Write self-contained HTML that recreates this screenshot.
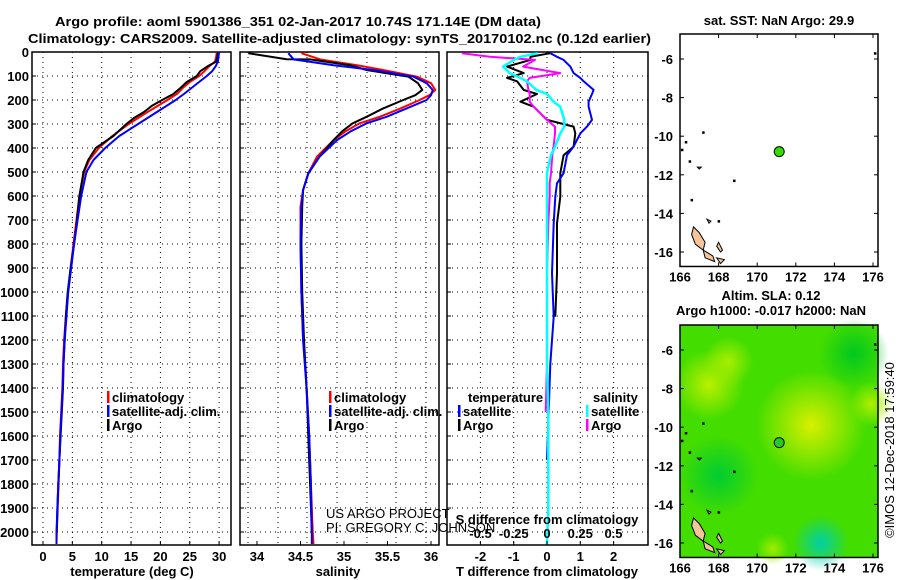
<!DOCTYPE html>
<html><head><meta charset="utf-8">
<style>
html,body{margin:0;padding:0;background:#fff;}
svg{display:block;font-family:"Liberation Sans",sans-serif;}
.b{font-weight:bold;font-size:13px;}
</style></head>
<body>
<svg id="c" width="900" height="580" viewBox="0 0 900 580" xmlns="http://www.w3.org/2000/svg">
<rect width="900" height="580" fill="#fff"/>
<text x="55" y="26" class="b" font-size="15" textLength="486" lengthAdjust="spacingAndGlyphs">Argo profile: aoml 5901386_351 02-Jan-2017 10.74S 171.14E (DM data)</text>
<text x="28" y="43" class="b" font-size="15" textLength="623" lengthAdjust="spacingAndGlyphs">Climatology: CARS2009. Satellite-adjusted climatology: synTS_20170102.nc (0.12d earlier)</text>
<g id="g"></g>
</svg>
<script>
// ---- data ----
const depthT = [0,20,40,60,80,100,125,150,175,200,225,250,275,300,350,400,450,500,600,700,800,900,1000,1100,1200,1300,1400,1500,1600,1700,1800,1900,2000,2050];
const tempArgo = [29.8,29.7,29.5,28.0,26.8,26.2,24.5,23.4,22.2,20.3,18.5,17.2,15.5,14.2,12.0,9.0,7.7,6.9,6.2,5.8,5.3,4.7,4.2,3.9,3.7,3.5,3.4,3.2,3.0,2.8,2.6,2.45,2.35,null];
const tempClim = [29.6,29.5,29.3,28.3,27.5,26.6,25.0,23.8,22.8,21.2,19.5,17.8,16.2,14.6,11.8,9.5,7.9,7.0,6.2,5.7,5.2,4.7,4.3,3.9,3.6,3.4,3.3,3.1,2.9,2.8,2.65,2.5,2.35,2.3];
const tempSat = [30.0,29.9,29.8,29.4,28.8,27.9,26.6,25.3,24.0,22.6,21.0,19.4,17.8,16.2,13.0,10.6,8.6,7.4,6.5,5.9,5.3,4.8,4.3,4.0,3.7,3.5,3.35,3.15,2.95,2.8,2.6,2.45,2.3,2.3];
const depthS = [5,30,31,55,75,103,130,158,180,200,235,270,297,330,367,436,506,575,644,800,1000,1200,1400,1600,1800,2000,2050];
const salArgo = [33.90,34.34,34.61,35.07,35.26,35.74,35.85,35.90,35.82,35.68,35.45,35.26,35.10,34.98,34.88,34.72,34.59,34.53,34.52,34.51,34.52,34.54,34.57,34.59,34.61,34.63,null];
const salClim = [34.51,34.72,34.72,35.15,35.45,35.84,36.0,36.05,35.98,35.87,35.65,35.41,35.18,35.02,34.88,34.69,34.59,34.53,34.50,34.50,34.51,34.53,34.57,34.6,34.62,34.64,34.65];
const salSat = [34.36,34.42,34.42,34.88,35.34,35.8,35.95,36.02,36.0,35.95,35.72,35.49,35.26,35.08,34.92,34.72,34.59,34.53,34.51,34.50,34.51,34.53,34.57,34.6,34.62,34.63,34.63];
const depthD = [5,20,33,61,88,108,122,158,175,207,228,283,311,339,394,430,505,547,603,714,922,1103,1300,1500,1700,1900,2050];
const dTArgo = [0.1,-0.5,-0.5,-1.2,-0.7,-1.2,-0.9,-0.7,-0.3,-0.8,-0.4,0.0,0.8,0.85,0.8,0.5,0.4,0.4,0.4,0.3,0.3,0.25,null,null,null,null,null];
const dTSat = [0.1,0.3,0.5,0.7,0.8,1.0,1.1,1.4,1.35,1.25,1.25,1.35,1.2,1.0,0.8,0.6,0.5,0.3,0.25,0.2,0.15,0.2,0.1,0.05,0.0,null,null];
const dSArgo = [-0.64,-0.43,-0.09,-0.18,0.1,-0.13,-0.15,-0.14,-0.13,-0.13,-0.1,0.0,0.06,0.06,0.05,0.04,0.03,0.02,0.02,0.01,0.0,0.0,0.0,-0.01,null,null,null];
const dSSat = [-0.07,-0.2,-0.25,-0.33,-0.28,-0.2,-0.15,-0.08,0.0,0.05,0.1,0.13,0.13,0.1,0.06,0.03,0.0,0.0,0.0,0.0,0.0,0.0,0.0,0.01,0.01,0.01,0.0];
const depthTicks = [0,100,200,300,400,500,600,700,800,900,1000,1100,1200,1300,1400,1500,1600,1700,1800,1900,2000];
const tempTicks = [0,5,10,15,20,25,30];
const salTicks = [34,34.5,35,35.5,36];
const salTickLabels = ["34","34.5","35","35.5","36"];
const dTTicks = [-2,-1,0,1,2];
const dSTicks = [-0.5,-0.25,0,0.25,0.5];
const lonTicks = [166,168,170,172,174,176];
const latTicks = [-6,-8,-10,-12,-14,-16];
const argoLon = 171.14, argoLat = -10.8;

// ---- scales ----
const yD = d => 52 + d*0.24;
const xT = t => 43 + t*5.87;
const xS = s => 257 + (s-34)*87;
const xDT = v => 547 + v*33.3;
const xDS = v => 547 + v*133;
const NS = "http://www.w3.org/2000/svg";
const G = document.getElementById('g');
function mk(tag, attrs, parent, txt){
  const e = document.createElementNS(NS, tag);
  for (const k in attrs) e.setAttribute(k, attrs[k]);
  if (txt !== undefined) e.textContent = txt;
  (parent||G).appendChild(e);
  return e;
}
function line(xs, ys, color, w, name){
  let d = "", pen = false;
  for (let i=0;i<xs.length;i++){
    if (xs[i]===null || xs[i]===undefined){pen=false;continue;}
    d += (pen?"L":"M") + xs[i].toFixed(1) + "," + ys[i].toFixed(1);
    pen = true;
  }
  const p = mk('path',{d:d,fill:'none',stroke:color,'stroke-width':w,'stroke-linejoin':'round'});
  
  
  return p;
}
function panel(x0,x1,name,vgrid){
  const g = mk('g',{});
  
  
  depthTicks.forEach(d=>{ if(d>0) mk('line',{x1:x0,x2:x1,y1:yD(d),y2:yD(d),stroke:'#000','stroke-width':1,'stroke-dasharray':'1,4'},g);
    mk('line',{x1:x0,x2:x0+4,y1:yD(d),y2:yD(d),stroke:'#000'},g);});
  vgrid.forEach(x=>{ mk('line',{x1:x,x2:x,y1:52,y2:545,stroke:'#000','stroke-width':1,'stroke-dasharray':'1,4'},g);});
  mk('rect',{x:x0,y:52,width:x1-x0,height:493,fill:'none',stroke:'#000','stroke-width':1.5},g);
  return g;
}
// y tick labels
depthTicks.forEach(d=>{
  const t = mk('text',{x:29,y:yD(d)+5,'text-anchor':'end',class:'b'},G,String(d));
  
  
});
// panels
panel(32,231,'temperature-panel',tempTicks.map(xT));
panel(240,439,'salinity-panel',[248,278,307,337,367,396,426]);
panel(447,648,'difference-panel',dTTicks.map(xDT));

// temperature
tempTicks.forEach(t=>{ mk('line',{x1:xT(t),x2:xT(t),y1:545,y2:541,stroke:'#000'});
  const e=mk('text',{x:xT(t),y:561,'text-anchor':'middle',class:'b'},G,String(t));
   });
line(tempClim.map(xT), depthT.map(yD), '#f00', 2, 'temp-climatology-line');
line(tempArgo.map(v=>v===null?null:xT(v)), depthT.map(yD), '#000', 2, 'temp-argo-line');
line(tempSat.map(xT), depthT.map(yD), '#00f', 2, 'temp-satellite-line');
let e = mk('text',{x:132,y:576,'text-anchor':'middle',class:'b'},G,'temperature (deg C)');
 

// salinity
salTicks.forEach((s,i)=>{ mk('line',{x1:xS(s),x2:xS(s),y1:545,y2:541,stroke:'#000'});
  const t=mk('text',{x:xS(s),y:561,'text-anchor':'middle',class:'b'},G,salTickLabels[i]);
   });
line(salClim.map(xS), depthS.map(yD), '#f00', 2, 'sal-climatology-line');
line(salArgo.map(v=>v===null?null:xS(v)), depthS.map(yD), '#000', 2, 'sal-argo-line');
line(salSat.map(xS), depthS.map(yD), '#00f', 2, 'sal-satellite-line');
e = mk('text',{x:338,y:576,'text-anchor':'middle',class:'b'},G,'salinity');
 

// difference
const ddy = depthD.map(yD);
line(dTArgo.map(v=>v===null?null:xDT(v)), ddy, '#000', 2, 'tdiff-argo-line');
line(dTSat.map(v=>v===null?null:xDT(v)), ddy, '#00f', 2, 'tdiff-satellite-line');
line(dSArgo.map(v=>v===null?null:xDS(v)), ddy, '#f0f', 2, 'sdiff-argo-line');
line(dSSat.map(v=>v===null?null:xDS(v)), ddy, '#0ff', 2.5, 'sdiff-satellite-line');
dTTicks.forEach(v=>{ mk('line',{x1:xDT(v),x2:xDT(v),y1:545,y2:541,stroke:'#000'});
  const t=mk('text',{x:xDT(v),y:561,'text-anchor':'middle',class:'b'},G,String(v));
   });
dSTicks.forEach(v=>{ const t=mk('text',{x:xDS(v),y:538,'text-anchor':'middle',class:'b'},G,String(v));
   });
e = mk('text',{x:547,y:524,'text-anchor':'middle',class:'b'},G,'S difference from climatology');
 
e = mk('text',{x:547,y:576,'text-anchor':'middle',class:'b'},G,'T difference from climatology');
 

// legends
function leg(x,y,color,label,name){
  const g = mk('g',{});
  
  
  if(color) mk('rect',{x:x,y:y-11,width:2.5,height:12,fill:color},g);
  mk('text',{x:x+5,y:y,class:'b'},g,label);
}
leg(107,402,'#f00','climatology','temp-legend-climatology');
leg(107,416,'#00f','satellite-adj. clim.','temp-legend-satellite');
leg(107,430,'#000','Argo','temp-legend-argo');
leg(329,402,'#f00','climatology','sal-legend-climatology');
leg(329,416,'#00f','satellite-adj. clim.','sal-legend-satellite');
leg(329,430,'#000','Argo','sal-legend-argo');
leg(463,402,null,'temperature','diff-legend-temp-header');
leg(458,416,'#00f','satellite','diff-legend-temp-satellite');
leg(458,430,'#000','Argo','diff-legend-temp-argo');
leg(588,402,null,'salinity','diff-legend-sal-header');
leg(586,416,'#0ff','satellite','diff-legend-sal-satellite');
leg(586,430,'#f0f','Argo','diff-legend-sal-argo');
e = mk('text',{x:326,y:518,'font-size':'13'},G,'US ARGO PROJECT');
 
e = mk('text',{x:326,y:532,'font-size':'13'},G,'PI: GREGORY C. JOHNSON');
 

// ---- maps ----
const mx = lon => 680 + (lon-166)*19.3;
function map(top, name, field){
  const my = lat => top + 25 + (-6-lat)*19.3;
  const g = mk('g',{});
  
  
  const bot = my(-16.75);
  if(field){
    const defs = mk('defs',{},g);
    const blobs = [['y1',mx(172.8),my(-9.9),55,'#d8f000'],['y2',mx(167.5),my(-7.8),35,'#bcf000'],['y3',mx(168.5),my(-6.6),25,'#a8ee00'],['g1',mx(175,0),my(-6.2),35,'#00c81e'],['g2',mx(168),my(-12.5),40,'#00cc30'],['c1',mx(173.3),my(-16),28,'#00d0a8'],['y4',mx(170.8),my(-16.3),16,'#a0ec00'],['y5',mx(175.9),my(-8.8),22,'#b0ee00']];
    mk('rect',{x:680,y:top,width:198,height:bot-top,fill:'#44dd00'},g);
    blobs.forEach(b=>{
      const rg = mk('radialGradient',{id:'rg'+b[0]},defs);
      mk('stop',{offset:'0','stop-color':b[4],'stop-opacity':1},rg);
      mk('stop',{offset:'1','stop-color':b[4],'stop-opacity':0},rg);
      mk('circle',{cx:b[1],cy:b[2],r:b[3],fill:'url(#rg'+b[0]+')'},g);
    });
  }
  // islands
  const isl = [[[166.7,-14.7],[167.0,-15.0],[167.3,-15.5],[167.2,-15.9],[166.8,-15.6],[166.6,-15.1]],[[167.2,-15.9],[167.7,-16.2],[167.8,-16.5],[167.3,-16.3]],[[167.4,-14.3],[167.6,-14.4],[167.5,-14.5]],[[168.0,-15.5],[168.2,-15.9],[168.1,-16.0],[167.9,-15.7]],[[167.9,-16.3],[168.3,-16.4],[168.1,-16.6]],[[166.9,-11.6],[167.1,-11.6],[167.0,-11.7]]];
  isl.forEach(p=>{ const s = mk('polygon',{points:p.map(q=>mx(q[0]).toFixed(1)+','+my(q[1]).toFixed(1)).join(' '),fill:'#f5c49a',stroke:'#000','stroke-width':1},g);
     });
  [[166.1,-10.7],[166.5,-11.3],[166.3,-10.3],[167.2,-9.8],[168.8,-12.3],[176.1,-5.7],[166.6,-13.3],[168.0,-14.4]].forEach(q=>mk('rect',{x:mx(q[0])-1,y:my(q[1])-1,width:2.5,height:2.5,fill:'#000'},g));
  mk('rect',{x:680,y:top,width:198,height:bot-top,fill:'none',stroke:'#000','stroke-width':1.5},g);
  const dot = mk('circle',{cx:mx(argoLon),cy:my(argoLat),r:5,fill:field?'#22cc22':'#33dd00',stroke:'#000','stroke-width':1},g);
   
  lonTicks.forEach(l=>{ mk('line',{x1:mx(l),x2:mx(l),y1:bot,y2:bot-4,stroke:'#000'},g); mk('line',{x1:mx(l),x2:mx(l),y1:top,y2:top+4,stroke:'#000'},g);
    const t=mk('text',{x:mx(l),y:bot+15,'text-anchor':'middle',class:'b'},g,String(l));
     });
  latTicks.forEach(l=>{ mk('line',{x1:680,x2:684,y1:my(l),y2:my(l),stroke:'#000'},g); mk('line',{x1:878,x2:874,y1:my(l),y2:my(l),stroke:'#000'},g);
    const t=mk('text',{x:673,y:my(l)+5,'text-anchor':'end',class:'b'},g,String(l));
     });
}
map(34,'sst-map',false);
map(325,'sla-map',true);
e = mk('text',{x:779,y:25,'text-anchor':'middle',class:'b'},G,'sat. SST: NaN Argo: 29.9');
 
e = mk('text',{x:771,y:300,'text-anchor':'middle',class:'b'},G,'Altim. SLA: 0.12');
 
e = mk('text',{x:771,y:315,'text-anchor':'middle',class:'b'},G,'Argo h1000: -0.017 h2000: NaN');
 
e = mk('text',{x:894,y:450,'text-anchor':'middle','font-size':'13',transform:'rotate(-90 894 450)'},G,'©IMOS 12-Dec-2018 17:59:40');
 
</script>
</body></html>
